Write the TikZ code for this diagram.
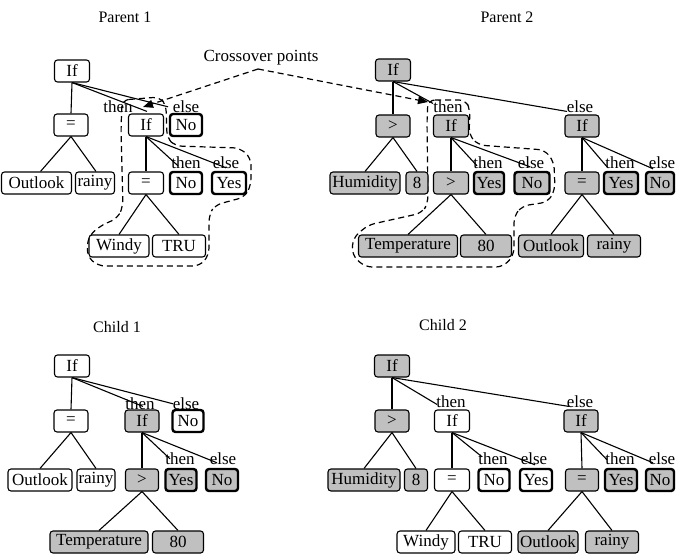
\documentclass[tikz,border=0pt]{standalone}
\usepackage{fontspec}
\setmainfont{Liberation Serif}
\usetikzlibrary{arrows.meta,calc}
\definecolor{boxgray}{RGB}{192,192,192}
\tikzset{
  tnode/.style={draw, rounded corners=3pt, line width=1.1pt, minimum height=22pt,
    inner sep=1pt, font=\fontsize{17}{20}\selectfont},
  gnode/.style={tnode, fill=boxgray},
  heavy/.style={line width=2.4pt},
  lbl/.style={inner sep=0pt, font=\fontsize{17}{20}\selectfont},
  ttl/.style={inner sep=0pt, font=\fontsize{16}{19}\selectfont},
  link/.style={line width=1.1pt},
  region/.style={dash pattern=on 6pt off 4pt, line width=1.2pt, rounded corners=7pt},
  pointer/.style={dash pattern=on 6pt off 4pt, line width=1.2pt,
    -{Triangle[length=10pt,width=8pt]}}
}
\begin{document}
\begin{tikzpicture}[x=1pt,y=-1pt]
\useasboundingbox (0,0) rectangle (676,556);
\fill[white] (0,0) rectangle (676,556);

% ---------- titles ----------
\node[ttl] (t-p1) at (125,17) {Parent 1};
\node[ttl] (t-p2) at (507,17) {Parent 2};
\node[ttl] (t-c1) at (117,327) {Child 1};
\node[ttl] (t-c2) at (443,325) {Child 2};

% ---------- crossover regions ----------
\draw[region] (122,100) -- (160,97) -- (166,105) -- (167,138) -- (175,146) -- (240,148)
  -- (251,158) -- (251,185) -- (245,197) -- (215,205) -- (209,215) -- (209,255)
  -- (200,266) -- (98,266) -- (87,256) -- (88,237) -- (100,226) -- (118,218)
  -- (123,206) -- (121,130) -- cycle;
\draw[region] (428,100) -- (466,100) -- (470,110) -- (469,135) -- (478,145) -- (545,150)
  -- (554,162) -- (555,190) -- (548,202) -- (522,206) -- (514,216) -- (514,255)
  -- (503,267) -- (365,267) -- (352,255) -- (353,238) -- (368,225) -- (422,213)
  -- (428,203) -- (427,120) -- cycle;

% ---------- Parent 1 ----------
\node[tnode,minimum width=35pt] (a-root) at (72,71) {If};
\node[tnode,minimum width=34pt] (a-eq) at (71,125) {=};
\node[tnode,minimum width=35pt] (a-if) at (146,125) {If};
\node[tnode,heavy,minimum width=32pt] (a-no) at (186,125) {No};
\node[tnode,minimum width=70pt] (a-out) at (36.5,183) {Outlook};
\node[tnode,minimum width=39pt] (a-rainy) at (95,183) {rainy};
\node[tnode,minimum width=35pt] (a-eq2) at (146,183) {=};
\node[tnode,heavy,minimum width=32pt] (a-no2) at (186,183) {No};
\node[tnode,heavy,minimum width=34pt] (a-yes2) at (229,183) {Yes};
\node[tnode,minimum width=60pt] (a-windy) at (119,246) {Windy};
\node[tnode,minimum width=53pt] (a-tru) at (179,246) {TRU};
\node[lbl] (a-then) at (118,107) {then};
\node[lbl] (a-else) at (186,107) {else};
\node[lbl] (a-then2) at (186,163) {then};
\node[lbl] (a-else2) at (226,163) {else};
\draw[link] (a-root.south) -- (a-eq.north);
\draw[link] (a-root.south) -- ($(a-if.north)+(1,-2)$);
\draw[link] (a-root.south) -- ($(a-no.north)+(-18,-6)$);
\draw[link] (a-eq.south) -- ($(a-out.north)+(4,0)$);
\draw[link] (a-eq.south) -- ($(a-rainy.north)+(1,0)$);
\draw[link] (a-if.south) -- (a-eq2.north);
\draw[link] (a-if.south) -- ($(a-no2.north)+(-8,-5)$);
\draw[link] (a-if.south) -- ($(a-yes2.north)+(-3,-3)$);
\draw[link] (a-eq2.south) -- (a-windy.north);
\draw[link] (a-eq2.south) -- (a-tru.north);

% ---------- Parent 2 ----------
\node[gnode,minimum width=35pt] (b-root) at (393,70) {If};
\node[gnode,minimum width=34pt] (b-gt) at (393,126) {>};
\node[gnode,minimum width=35pt] (b-if) at (451,126) {If};
\node[gnode,minimum width=34pt] (b-if2) at (582,126) {If};
\node[gnode,minimum width=70pt] (b-hum) at (365,183) {Humidity};
\node[gnode,minimum width=22pt] (b-eight) at (417,183) {8};
\node[gnode,minimum width=35pt] (b-gt2) at (451,183) {>};
\node[gnode,heavy,minimum width=30pt] (b-yes) at (489,183) {Yes};
\node[gnode,heavy,minimum width=35pt] (b-no) at (532,183) {No};
\node[gnode,minimum width=34pt] (b-eq) at (582,183) {=};
\node[gnode,heavy,minimum width=34pt] (b-yes2) at (621,183) {Yes};
\node[gnode,heavy,minimum width=28pt] (b-no2) at (660,183) {No};
\node[gnode,minimum width=99pt] (b-temp) at (408,246) {Temperature};
\node[gnode,minimum width=51pt] (b-n80) at (486,246) {80};
\node[gnode,minimum width=65pt] (b-out) at (551,246) {Outlook};
\node[gnode,minimum width=53pt] (b-rainy) at (614,246) {rainy};
\node[lbl] (b-then) at (448,107) {then};
\node[lbl] (b-else) at (580,107) {else};
\node[lbl] (b-then2) at (488,163) {then};
\node[lbl] (b-else2) at (531,163) {else};
\node[lbl] (b-then3) at (620,163) {then};
\node[lbl] (b-else3) at (662,163) {else};
\draw[link] (b-root.south) -- (b-gt.north);
\draw[link] (b-root.south) -- ($(b-if.north)+(-18,-11)$);
\draw[link] (b-root.south) -- ($(b-if2.north)+(-15,-3)$);
\draw[link] (b-gt.south) -- (b-hum.north);
\draw[link] (b-gt.south) -- (b-eight.north);
\draw[link] (b-if.south) -- (b-gt2.north);
\draw[link] (b-if.south) -- ($(b-yes.north)+(-12,-5)$);
\draw[link] (b-if.south) -- ($(b-no.north)+(-2,-4)$);
\draw[link] (b-if2.south) -- (b-eq.north);
\draw[link] (b-if2.south) -- ($(b-yes2.north)+(-14,-4)$);
\draw[link] (b-if2.south) -- ($(b-no2.north)+(-7,-2)$);
\draw[link] (b-gt2.south) -- (b-temp.north);
\draw[link] (b-gt2.south) -- (b-n80.north);
\draw[link] (b-eq.south) -- (b-out.north);
\draw[link] (b-eq.south) -- (b-rainy.north);

% ---------- crossover pointers ----------
\node[lbl] (cross) at (261,58) {Crossover points};
\coordinate (cp) at (258,69);
\coordinate (tip-a) at (143,107);
\coordinate (tip-b) at (428,102);
\draw[pointer] (cp) -- (tip-a);
\draw[pointer] (cp) -- (tip-b);

% ---------- Child 1 ----------
\node[tnode,minimum width=35pt] (c-root) at (72,366) {If};
\node[tnode,minimum width=34pt] (c-eq) at (71,421) {=};
\node[gnode,minimum width=34pt] (c-if) at (142,421) {If};
\node[tnode,heavy,minimum width=31pt] (c-no) at (188,421) {No};
\node[tnode,minimum width=64pt] (c-out) at (40,480) {Outlook};
\node[tnode,minimum width=38pt] (c-rainy) at (96,480) {rainy};
\node[gnode,minimum width=33pt] (c-gt) at (142,480) {>};
\node[gnode,heavy,minimum width=31pt] (c-yes) at (181,480) {Yes};
\node[gnode,heavy,minimum width=32pt] (c-no2) at (222,480) {No};
\node[gnode,minimum width=98pt] (c-temp) at (99,542) {Temperature};
\node[gnode,minimum width=51pt] (c-n80) at (178,542) {80};
\node[lbl] (c-then) at (140,404) {then};
\node[lbl] (c-else) at (186,404) {else};
\node[lbl] (c-then2) at (180,459) {then};
\node[lbl] (c-else2) at (223,459) {else};
\draw[link] (c-root.south) -- (c-eq.north);
\draw[link] (c-root.south) -- ($(c-if.north)+(1,-3)$);
\draw[link] (c-root.south) -- ($(c-no.north)+(-15,-5)$);
\draw[link] (c-eq.south) -- (c-out.north);
\draw[link] (c-eq.south) -- (c-rainy.north);
\draw[link] (c-if.south) -- (c-gt.north);
\draw[link] (c-if.south) -- ($(c-yes.north)+(-11,-9)$);
\draw[link] (c-if.south) -- ($(c-no2.north)+(-5,-5)$);
\draw[link] (c-gt.south) -- (c-temp.north);
\draw[link] (c-gt.south) -- (c-n80.north);

% ---------- Child 2 ----------
\node[gnode,minimum width=35pt] (d-root) at (392,366) {If};
\node[gnode,minimum width=34pt] (d-gt) at (392,421) {>};
\node[tnode,minimum width=35pt] (d-if) at (452,421) {If};
\node[gnode,minimum width=34pt] (d-if2) at (581,421) {If};
\node[gnode,minimum width=72pt] (d-hum) at (364,480) {Humidity};
\node[gnode,minimum width=23pt] (d-eight) at (416,480) {8};
\node[tnode,minimum width=35pt] (d-eq) at (452,480) {=};
\node[tnode,heavy,minimum width=31pt] (d-no) at (494,480) {No};
\node[tnode,heavy,minimum width=32pt] (d-yes) at (536,480) {Yes};
\node[gnode,minimum width=33pt] (d-eq2) at (582,480) {=};
\node[gnode,heavy,minimum width=32pt] (d-yes2) at (621,480) {Yes};
\node[gnode,heavy,minimum width=28pt] (d-no2) at (660,480) {No};
\node[tnode,minimum width=58pt] (d-windy) at (426,542) {Windy};
\node[tnode,minimum width=53pt] (d-tru) at (485,542) {TRU};
\node[gnode,minimum width=60pt] (d-out) at (548,542) {Outlook};
\node[gnode,minimum width=53pt] (d-rainy) at (612,542) {rainy};
\node[lbl] (d-then) at (451,402) {then};
\node[lbl] (d-else) at (580,402) {else};
\node[lbl] (d-then2) at (493,459) {then};
\node[lbl] (d-else2) at (534,459) {else};
\node[lbl] (d-then3) at (620,459) {then};
\node[lbl] (d-else3) at (662,459) {else};
\draw[link] (d-root.south) -- (d-gt.north);
\draw[link] (d-root.south) -- ($(d-if.north)+(-15,-5)$);
\draw[link] (d-root.south) -- ($(d-if2.north)+(-12,-3)$);
\draw[link] (d-gt.south) -- (d-hum.north);
\draw[link] (d-gt.south) -- (d-eight.north);
\draw[link] (d-if.south) -- (d-eq.north);
\draw[link] (d-if.south) -- ($(d-no.north)+(-12,-11)$);
\draw[link] (d-if.south) -- ($(d-yes.north)+(-1,-3)$);
\draw[link] (d-if2.south) -- (d-eq2.north);
\draw[link] (d-if2.south) -- ($(d-yes2.north)+(-14,-8)$);
\draw[link] (d-if2.south) -- ($(d-no2.north)+(-7,-5)$);
\draw[link] (d-eq.south) -- (d-windy.north);
\draw[link] (d-eq.south) -- (d-tru.north);
\draw[link] (d-eq2.south) -- (d-out.north);
\draw[link] (d-eq2.south) -- (d-rainy.north);
\end{tikzpicture}
\end{document}
